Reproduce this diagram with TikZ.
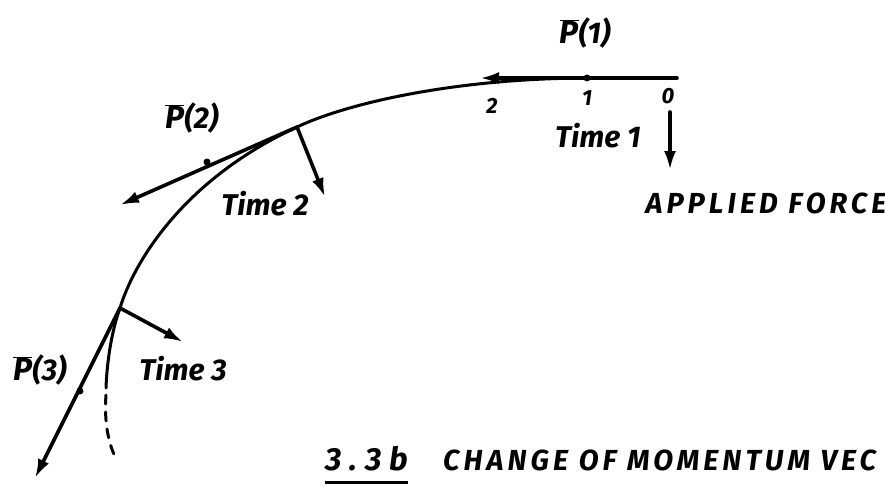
\documentclass[tikz,border=0pt]{standalone}
\usepackage{fontspec}
\setmainfont{Fira Sans}
\usetikzlibrary{arrows.meta,calc,positioning}
\newcommand{\hand}[1]{\fontsize{#1}{#1}\selectfont\bfseries\itshape}
\newcommand{\wide}[1]{\addfontfeatures{LetterSpace=#1}}
\newcommand{\Pvec}[1]{\(\overline{\mbox{\hand{32}P}}\)(#1)}

\begin{document}
\begin{tikzpicture}[x=1pt,y=-1pt,
  path/.style={line width=3pt,line cap=round},
  vec/.style={line width=3.6pt,line cap=round,-{Latex[length=19pt,width=12pt]}},
  lab/.style={font=\hand{30},inner sep=0pt},
  caps/.style={font=\hand{29}\wide{14},inner sep=0pt},
  num/.style={font=\hand{22},inner sep=0pt}]
\useasboundingbox (0,0) rectangle (885,485);
\coordinate (s0) at (590,78);
\coordinate (o0) at (677,78);
\coordinate (v1) at (480,78);
\coordinate (m1) at (587,78);
\coordinate (t2) at (297,127);
\coordinate (v2) at (120,205);
\coordinate (m2) at (207,162);
\coordinate (t3) at (120,308);
\coordinate (v3) at (35,478);
\coordinate (m3) at (80,391);
\coordinate (c3) at (106,388);
\coordinate (d3) at (117,460);
\coordinate (f1) at (670,112);
\coordinate (f1e) at (670,170);
\coordinate (f2e) at (325,197);
\coordinate (f3e) at (183,342);
\draw[path] (s0) .. controls (460,78) and (350,102) .. (t2)
  .. controls (178,182) and (132,268) .. (t3)
  .. controls (112,330) and (107,360) .. (c3);
\draw[path,dash pattern=on 9pt off 8pt] ($(c3)+(0,7)$) .. controls (104,420) and (108,445) .. (d3);
\draw[vec] (o0) -- (v1);
\draw[vec] (t2) -- (v2);
\draw[vec] (t3) -- (v3);
\draw[vec] (f1) -- (f1e);
\draw[vec] (t2) -- (f2e);
\draw[vec] (t3) -- (f3e);
\foreach \m in {m1,m2,m3} \fill (\m) circle (3.5pt);
\node[num] (n0) at (668,96) {0};
\node[num] (n1) at (587,98) {1};
\node[num] (n2) at (492,106) {2};
\node[lab] (p1) at (585,33) {\Pvec{1}};
\node[lab] (p2) at (192,118) {\Pvec{2}};
\node[lab] (p3) at (40,370) {\Pvec{3}};
\node[lab] (time1) at (598,136) {Time 1};
\node[lab] (time2) at (265,204) {Time 2};
\node[lab] (time3) at (183,369) {Time 3};
\node[caps] (force) at (766,203) {APPLIED FORCE};
\node[caps,font=\hand{32}\wide{24},anchor=base west] (fig) at (325,470) {3.3b};
\draw[line width=3pt] ($(fig.south west)+(0,12)$) -- ($(fig.south east)+(0,12)$);
\node[caps,anchor=base west] (caption) at (443,470) {CHANGE OF MOMENTUM VEC};
\end{tikzpicture}
\end{document}
